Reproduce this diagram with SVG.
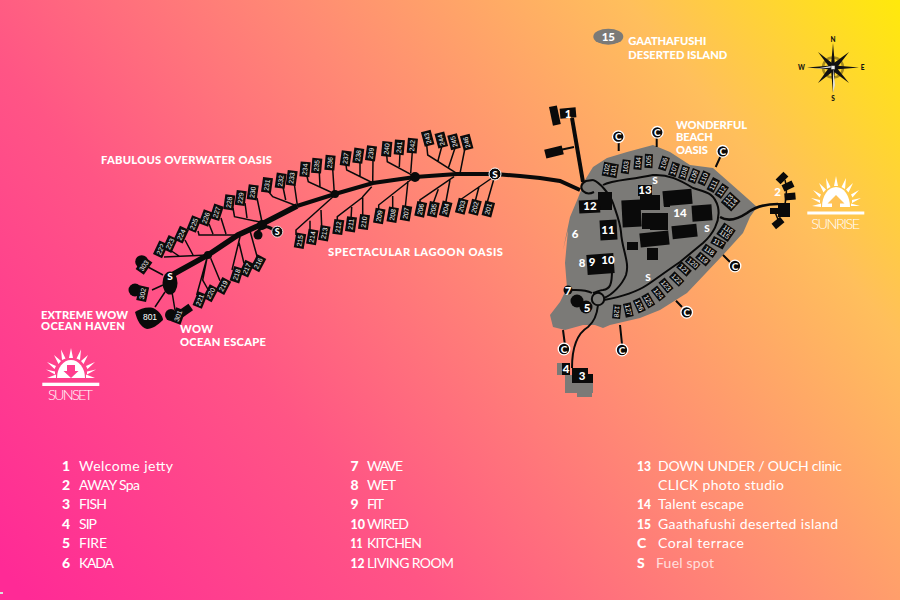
<svg xmlns="http://www.w3.org/2000/svg" width="900" height="600" viewBox="0 0 900 600">
<defs>
<linearGradient id="bg" gradientUnits="userSpaceOnUse" x1="60" y1="640" x2="880" y2="-20">
<stop offset="0" stop-color="#ff2a96"/><stop offset="0.3" stop-color="#ff5585"/><stop offset="0.55" stop-color="#ff8a74"/><stop offset="0.8" stop-color="#ffbf5c"/><stop offset="1" stop-color="#ffe90c"/>
</linearGradient>
</defs>
<style>
text{font-family:"Lato","Liberation Sans",sans-serif;fill:#fff}
.v rect{fill:#0c0c0c}
.v text{font-family:"Liberation Sans",sans-serif;font-size:6.800px;text-anchor:middle;fill:#f2f2f2}
.b{fill:#0a0a0a}
.lk{fill:none;stroke:#0a0a0a;stroke-width:1.500}
.rd{fill:none;stroke:#0a0a0a;stroke-width:2}
.h{font-weight:900;font-size:11.200px}
.m{font-weight:900;font-size:11.500px;text-anchor:middle}
.l{font-size:14px}
.n{font-size:14px;font-weight:900}
.c circle{fill:#0a0a0a;stroke:#fff;stroke-width:1.300}
.c text{font-weight:900;font-size:10px;text-anchor:middle}
</style>
<rect width="900" height="600" fill="url(#bg)"/>
<rect x="0" y="592" width="3" height="2" fill="#ddd"/>

<path id="island" fill="#7b7a77" d="M563 250L570 217L578 198L585 180L593 167L607 158L627 152L653 145L670 152L690 165L713 168L730 183L747 198L757 207L750 217L743 233L723 255L687 293L660 310L640 318L610 325L603 328L595 325L583 325L565 330L553 327L550 315L560 302L567 288L565 263L568 230Z"/>
<path id="grey-3" fill="#7b7a77" d="M557 363H563V375H557ZM565 375H593V393H565ZM577 393H592V397H577Z"/>

<g id="connectors">
<path d="M170 276L208 255L238 235L262 224L297 206" fill="none" stroke="#0a0a0a" stroke-width="5.500"/>
<path d="M297 206L335 194L373 183L415 177L457 174L495 174L520 176L540 178L560 181L580 190" fill="none" stroke="#0a0a0a" stroke-width="4"/>
<circle cx="208" cy="255" r="4" class="b"/><circle cx="262" cy="225" r="5" class="b"/><circle cx="335" cy="194" r="4" class="b"/><circle cx="415" cy="177" r="5" class="b"/>
<path d="M258 238C255 231 262 226 268 227C272 228 274 231 277 232" fill="none" stroke="#0a0a0a" stroke-width="3"/><circle cx="258" cy="235" r="4.500" class="b"/>
<path class="lk" d="M164 257L208 255M170 250L179 256M185 240L193 255M198 231L199 235L238 235M209 224L213 234M221 218L226 234M233 208L234.500 216.700L260 222M245 203L247 218M257 198L262 222M268 191L272.700 196.700L297 206M283 187L285.700 200M294 182L297.300 205M306.700 175L308.300 181.700L335 194M319.300 172L320 186.700M332.700 169L334.300 193M346 165L346.700 170L373 183M360 162L360 176.700M373 160L372.700 183M386.700 155L387.300 161.700L415 176.700M400 153L399.300 167M412.300 152L410.700 173M426.700 145L427.700 155L456.700 173.300M441.700 146.700L437.700 161.700M455 148L448.300 168.300M465 148L460 173.300M495 175L487.300 202M479 186.700L475 202M492 178L460 200M450 180L445.700 203M438.300 189.300L433.300 203M454 176.700L420 200L420 203M408 181L405.300 207M392.700 196L392.700 208M413 178L378.700 205L378.700 209M371.700 186.700L362.700 196.700L362.700 216.700M351.700 207L351 219M363 197L337.300 216.700L337.300 221M321 210L321.700 227M310 220.700L310 231M335 195L296 230L296 235M249.300 228.300L257.300 257.300M239 242.700L244 263.300M240 236.700L232 270M210.700 258.300L220 280.700M207 258L202.700 280L208.300 290M207.300 256.700L196.700 295M148 267L163 275M152 290L163 285M155 307L165 292M172 292L175 310"/>
<path d="M572 118L583 182" fill="none" stroke="#0a0a0a" stroke-width="4"/>
<path class="lk" style="stroke-width:2" d="M560 150L574 147M563 330L564.700 343M620 325L622 344M618.700 142V151M656.700 138V147M720.700 156L715.700 167M723 255L730 262M676 300.700L682 307"/>
<path class="rd" d="M603 185C612 180 630 180 653 175C668 174 680 180 693 188C705 192 714 192 718 207C721 222 712 235 703 243L680 262C665 272 655 280 647 285C635 293 620 297 604 300"/>
<path class="rd" d="M593 180C600 182 610 195 613 203C617 215 620 222 621 232C622 250 630 262 626 275C622 285 612 295 604 298"/>
<path class="rd" d="M592 293C585 289 578 290 570 290M593 293C597 292 600 290 603 290C610 289 612 285 612 270"/>
<path class="rd" d="M598 305C597 315 594 322 588 327C578 333 572 345 572 368"/>
<path d="M720 217C728 222 738 219 747 213C755 207 765 204 778 204" fill="none" stroke="#0a0a0a" stroke-width="2.600"/>
<path class="lk" d="M785 180C788 190 786 198 785 204M775 212L779 222"/>
<path d="M593 180L586 181C581 183 580 188 583 191C586 194 590 194 594 192" fill="#7b7a77" stroke="#0a0a0a" stroke-width="2"/>
<circle cx="598" cy="299" r="6.200" fill="#7b7a77" stroke="#0a0a0a" stroke-width="2"/>
</g>

<g id="villas-lagoon">
<g class="v" id="v201" transform="translate(488.300,209) rotate(-75)"><rect x="-7.500" y="-5" width="15" height="10"/><text y="2.300">201</text></g>
<g class="v" id="v202" transform="translate(475,207.300) rotate(-75)"><rect x="-7.500" y="-5" width="15" height="10"/><text y="2.300">202</text></g>
<g class="v" id="v203" transform="translate(461.700,206.300) rotate(-75)"><rect x="-7.500" y="-5" width="15" height="10"/><text y="2.300">203</text></g>
<g class="v" id="v204" transform="translate(445.700,209) rotate(-75)"><rect x="-7.500" y="-5" width="15" height="10"/><text y="2.300">204</text></g>
<g class="v" id="v205" transform="translate(433.300,209.300) rotate(-78)"><rect x="-7.500" y="-5" width="15" height="10"/><text y="2.300">205</text></g>
<g class="v" id="v206" transform="translate(420.700,209.300) rotate(-78)"><rect x="-7.500" y="-5" width="15" height="10"/><text y="2.300">206</text></g>
<g class="v" id="v207" transform="translate(406,213.300) rotate(-80)"><rect x="-7.500" y="-5" width="15" height="10"/><text y="2.300">207</text></g>
<g class="v" id="v208" transform="translate(392.700,214.700) rotate(-80)"><rect x="-7.500" y="-5" width="15" height="10"/><text y="2.300">208</text></g>
<g class="v" id="v209" transform="translate(379.300,216) rotate(-80)"><rect x="-7.500" y="-5" width="15" height="10"/><text y="2.300">209</text></g>
<g class="v" id="v210" transform="translate(364,222) rotate(-82)"><rect x="-7.500" y="-5" width="15" height="10"/><text y="2.300">210</text></g>
<g class="v" id="v211" transform="translate(351,224.300) rotate(-82)"><rect x="-7.500" y="-5" width="15" height="10"/><text y="2.300">211</text></g>
<g class="v" id="v212" transform="translate(338.300,227) rotate(-82)"><rect x="-7.500" y="-5" width="15" height="10"/><text y="2.300">212</text></g>
<g class="v" id="v213" transform="translate(324.300,233.300) rotate(-80)"><rect x="-7.500" y="-5" width="15" height="10"/><text y="2.300">213</text></g>
<g class="v" id="v214" transform="translate(312.300,237) rotate(-80)"><rect x="-7.500" y="-5" width="15" height="10"/><text y="2.300">214</text></g>
<g class="v" id="v215" transform="translate(300,240.700) rotate(-80)"><rect x="-7.500" y="-5" width="15" height="10"/><text y="2.300">215</text></g>
<g class="v" id="v216" transform="translate(258.300,263.300) rotate(-62)"><rect x="-7.500" y="-5" width="15" height="10"/><text y="2.300">216</text></g>
<g class="v" id="v217" transform="translate(246.700,268.700) rotate(-65)"><rect x="-7.500" y="-5" width="15" height="10"/><text y="2.300">217</text></g>
<g class="v" id="v218" transform="translate(236.700,274.700) rotate(-72)"><rect x="-7.500" y="-5" width="15" height="10"/><text y="2.300">218</text></g>
<g class="v" id="v219" transform="translate(223.300,286) rotate(-62)"><rect x="-7.500" y="-5" width="15" height="10"/><text y="2.300">219</text></g>
<g class="v" id="v220" transform="translate(210.700,293.300) rotate(-62)"><rect x="-7.500" y="-5" width="15" height="10"/><text y="2.300">220</text></g>
<g class="v" id="v221" transform="translate(200,300) rotate(-68)"><rect x="-7.500" y="-5" width="15" height="10"/><text y="2.300">221</text></g>
</g>
<g id="villas-overwater">
<g class="v" id="v222" transform="translate(160.700,249.300) rotate(-65)"><rect x="-7.500" y="-5" width="15" height="10"/><text y="2.300">222</text></g>
<g class="v" id="v223" transform="translate(170,244) rotate(-65)"><rect x="-7.500" y="-5" width="15" height="10"/><text y="2.300">223</text></g>
<g class="v" id="v224" transform="translate(181.300,234.700) rotate(-65)"><rect x="-7.500" y="-5" width="15" height="10"/><text y="2.300">224</text></g>
<g class="v" id="v225" transform="translate(194,224) rotate(-68)"><rect x="-7.500" y="-5" width="15" height="10"/><text y="2.300">225</text></g>
<g class="v" id="v226" transform="translate(206,218) rotate(-70)"><rect x="-7.500" y="-5" width="15" height="10"/><text y="2.300">226</text></g>
<g class="v" id="v227" transform="translate(216.700,212.300) rotate(-72)"><rect x="-7.500" y="-5" width="15" height="10"/><text y="2.300">227</text></g>
<g class="v" id="v228" transform="translate(229.300,202.300) rotate(-82)"><rect x="-7.500" y="-5" width="15" height="10"/><text y="2.300">228</text></g>
<g class="v" id="v229" transform="translate(240.700,198) rotate(-82)"><rect x="-7.500" y="-5" width="15" height="10"/><text y="2.300">229</text></g>
<g class="v" id="v230" transform="translate(252.700,192.300) rotate(-82)"><rect x="-7.500" y="-5" width="15" height="10"/><text y="2.300">230</text></g>
<g class="v" id="v231" transform="translate(267,185) rotate(-82)"><rect x="-7.500" y="-5" width="15" height="10"/><text y="2.300">231</text></g>
<g class="v" id="v232" transform="translate(280.700,180.700) rotate(-82)"><rect x="-7.500" y="-5" width="15" height="10"/><text y="2.300">232</text></g>
<g class="v" id="v233" transform="translate(291.700,178) rotate(-82)"><rect x="-7.500" y="-5" width="15" height="10"/><text y="2.300">233</text></g>
<g class="v" id="v234" transform="translate(305,169.300) rotate(-85)"><rect x="-7.500" y="-5" width="15" height="10"/><text y="2.300">234</text></g>
<g class="v" id="v235" transform="translate(316.700,165.700) rotate(-85)"><rect x="-7.500" y="-5" width="15" height="10"/><text y="2.300">235</text></g>
<g class="v" id="v236" transform="translate(330,162.700) rotate(-85)"><rect x="-7.500" y="-5" width="15" height="10"/><text y="2.300">236</text></g>
<g class="v" id="v237" transform="translate(345.700,158.300) rotate(-82)"><rect x="-7.500" y="-5" width="15" height="10"/><text y="2.300">237</text></g>
<g class="v" id="v238" transform="translate(358.300,155.700) rotate(-82)"><rect x="-7.500" y="-5" width="15" height="10"/><text y="2.300">238</text></g>
<g class="v" id="v239" transform="translate(371,153.300) rotate(-82)"><rect x="-7.500" y="-5" width="15" height="10"/><text y="2.300">239</text></g>
<g class="v" id="v240" transform="translate(386.700,149) rotate(-85)"><rect x="-7.500" y="-5" width="15" height="10"/><text y="2.300">240</text></g>
<g class="v" id="v241" transform="translate(399.300,147.300) rotate(-85)"><rect x="-7.500" y="-5" width="15" height="10"/><text y="2.300">241</text></g>
<g class="v" id="v242" transform="translate(412.300,145.700) rotate(-85)"><rect x="-7.500" y="-5" width="15" height="10"/><text y="2.300">242</text></g>
<g class="v" id="v243" transform="translate(427.700,138.300) rotate(-105)"><rect x="-7.500" y="-5" width="15" height="10"/><text y="2.300">243</text></g>
<g class="v" id="v244" transform="translate(441.300,140) rotate(-105)"><rect x="-7.500" y="-5" width="15" height="10"/><text y="2.300">244</text></g>
<g class="v" id="v245" transform="translate(454,141.700) rotate(-105)"><rect x="-7.500" y="-5" width="15" height="10"/><text y="2.300">245</text></g>
<g class="v" id="v246" transform="translate(466.700,142.300) rotate(-105)"><rect x="-7.500" y="-5" width="15" height="10"/><text y="2.300">246</text></g>
</g>
<g id="villas-haven">
<g id="v303"><circle cx="141.700" cy="261.700" r="6.500" class="b"/><g class="v" transform="translate(144,265.700) rotate(-55)"><rect x="-7.500" y="-5" width="15" height="10"/><text y="2.300">303</text></g></g>
<g id="v302"><circle cx="135" cy="290" r="6.500" class="b"/><g class="v" transform="translate(142.700,293.700) rotate(-78)"><rect x="-7.500" y="-5" width="15" height="10"/><text y="2.300">302</text></g></g>
<g id="v301"><circle cx="171" cy="315" r="6" class="b"/><rect class="b" x="-7" y="-4" width="14" height="8" transform="translate(185,311) rotate(-35)"/><g class="v" transform="translate(178.300,316) rotate(-70)"><rect x="-7.500" y="-5" width="15" height="10"/><text y="2.300">301</text></g></g>
<g id="v801"><path class="b" d="M135 312C141 308 150 306 155 309C160 312 163 317 163 320C158 325 152 329 147 329C141 328 137 320 135 312Z"/><text x="150" y="320" style="font-family:'Liberation Sans',sans-serif;font-size:8.500px;text-anchor:middle">801</text></g>
</g>
<g id="fuel-west">
<ellipse cx="170" cy="283" rx="7.500" ry="11.500" class="b"/>
<text class="m" x="170" y="280" style="font-size:10px">S</text>
</g>
<g id="fuel-hook"><circle cx="277.300" cy="231.700" r="5.500" fill="#0a0a0a" stroke="#fff" stroke-width=".8"/><text x="277.300" y="235" style="font-weight:900;font-size:9px;text-anchor:middle">S</text></g>
<g id="fuel-jetty"><circle cx="495" cy="174" r="6" fill="#0a0a0a" stroke="#fff" stroke-width="1"/><text x="495" y="178" style="font-weight:900;font-size:10px;text-anchor:middle">S</text></g>

<g id="villas-beach">
<g class="v" id="v101" transform="translate(610.300,170) rotate(-80)"><rect x="-7" y="-7.500" width="14" height="15"/><text y="-1.500">102</text><text y="5.500">101</text></g>
<g class="v" id="v103" transform="translate(625.700,166.700) rotate(-82)"><rect x="-7" y="-4" width="14" height="8"/><text y="2.300">103</text></g>
<g class="v" id="v104" transform="translate(638,162.700) rotate(-85)"><rect x="-7" y="-4" width="14" height="8"/><text y="2.300">104</text></g>
<g class="v" id="v105" transform="translate(648.700,161) rotate(-88)"><rect x="-7" y="-4" width="14" height="8"/><text y="2.300">105</text></g>
<g class="v" id="v106" transform="translate(664,163.300) rotate(-72)"><rect x="-7" y="-4" width="14" height="8"/><text y="2.300">106</text></g>
<g class="v" id="v107" transform="translate(674,169.300) rotate(-72)"><rect x="-7" y="-4" width="14" height="8"/><text y="2.300">107</text></g>
<g class="v" id="v108" transform="translate(684,172.700) rotate(-72)"><rect x="-7" y="-4" width="14" height="8"/><text y="2.300">108</text></g>
<g class="v" id="v109" transform="translate(694,176) rotate(-68)"><rect x="-7" y="-4" width="14" height="8"/><text y="2.300">109</text></g>
<g class="v" id="v110" transform="translate(704,178.300) rotate(-65)"><rect x="-7" y="-4" width="14" height="8"/><text y="2.300">110</text></g>
<g class="v" id="v111" transform="translate(713.300,185) rotate(-62)"><rect x="-7" y="-4" width="14" height="8"/><text y="2.300">111</text></g>
<g class="v" id="v112" transform="translate(721.700,191) rotate(-55)"><rect x="-7" y="-4" width="14" height="8"/><text y="2.300">112</text></g>
<g class="v" id="v113" transform="translate(730.700,201.700) rotate(-48)"><rect x="-7" y="-7" width="14" height="14"/><text y="-1.200">113</text><text y="5">114</text></g>
<g class="v" id="v115" transform="translate(726,232.300) rotate(35)"><rect x="-7" y="-7" width="14" height="14"/><text y="-1.200">116</text><text y="5">115</text></g>
<g class="v" id="v117" transform="translate(718.300,242.700) rotate(28)"><rect x="-7" y="-4" width="14" height="8"/><text y="2.300">117</text></g>
<g class="v" id="v118" transform="translate(709.300,250.700) rotate(35)"><rect x="-7" y="-4" width="14" height="8"/><text y="2.300">118</text></g>
<g class="v" id="v119" transform="translate(703,259) rotate(40)"><rect x="-7" y="-4" width="14" height="8"/><text y="2.300">119</text></g>
<g class="v" id="v120" transform="translate(692.700,263) rotate(40)"><rect x="-7" y="-4" width="14" height="8"/><text y="2.300">120</text></g>
<g class="v" id="v121" transform="translate(684,269) rotate(42)"><rect x="-7" y="-4" width="14" height="8"/><text y="2.300">121</text></g>
<g class="v" id="v122" transform="translate(676.700,279) rotate(45)"><rect x="-7" y="-4" width="14" height="8"/><text y="2.300">122</text></g>
<g class="v" id="v123" transform="translate(666,285.500) rotate(50)"><rect x="-7" y="-4" width="14" height="8"/><text y="2.300">123</text></g>
<g class="v" id="v124" transform="translate(658.300,293.500) rotate(52)"><rect x="-7" y="-4" width="14" height="8"/><text y="2.300">124</text></g>
<g class="v" id="v125" transform="translate(648.300,300.500) rotate(60)"><rect x="-7" y="-4" width="14" height="8"/><text y="2.300">125</text></g>
<g class="v" id="v126" transform="translate(639.300,305.500) rotate(65)"><rect x="-7" y="-4" width="14" height="8"/><text y="2.300">126</text></g>
<g class="v" id="v127" transform="translate(628.300,310) rotate(78)"><rect x="-7" y="-4" width="14" height="8"/><text y="2.300">127</text></g>
<g class="v" id="v128" transform="translate(616.700,311.700) rotate(95)"><rect x="-7" y="-4" width="14" height="8"/><text y="2.300">128</text></g>
</g>

<g id="buildings">
<rect class="b" x="598" y="192" width="14" height="18"/>
<rect class="b" x="622" y="200" width="19" height="27" transform="rotate(-3 631 213)"/>
<rect class="b" x="640" y="195" width="20" height="15"/>
<rect class="b" x="664" y="193" width="6" height="14"/>
<rect class="b" x="642" y="213" width="17" height="16"/>
<rect class="b" x="640" y="232" width="29" height="14" transform="rotate(-6 654 239)"/>
<rect class="b" x="627" y="242" width="11" height="8"/>
<rect class="b" x="647" y="248" width="11" height="12"/>
<rect class="b" x="663" y="190" width="29" height="15" transform="rotate(-5 677 197)"/>
<rect class="b" x="692" y="205" width="20" height="16" transform="rotate(-4 702 213)"/>
<rect class="b" x="672" y="225" width="25" height="13" transform="rotate(-6 684 231)"/>
<rect class="b" x="650" y="213" width="18" height="17"/>
</g>
<g id="n1"><rect class="b" x="551" y="106" width="8" height="19" transform="rotate(-12 555 116)"/><rect class="b" x="560" y="108" width="16" height="10" transform="rotate(-5 568 113)"/><text class="m" x="568" y="117.500">1</text></g>
<g id="jetty-end"><rect class="b" x="545" y="147.500" width="18" height="9" transform="rotate(-14 554 152)"/></g>
<g id="n2"><rect class="b" x="778" y="203" width="12" height="14"/><rect class="b" x="770" y="208" width="9" height="6"/><rect class="b" x="776.500" y="174.500" width="11" height="7" transform="rotate(-45 782 178)"/><rect class="b" x="782.500" y="182.500" width="11" height="7" transform="rotate(-25 788 186)"/><rect class="b" x="784.500" y="193" width="11" height="7" transform="rotate(-5 790 196.500)"/><rect class="b" x="772.500" y="219.500" width="11" height="7" transform="rotate(-40 778 223)"/><text class="m" x="777.500" y="195.500">2</text></g>
<g id="n3"><rect class="b" x="572" y="368" width="16" height="15"/><rect class="b" x="584" y="374" width="9" height="9"/><text class="m" x="582" y="380">3</text></g>
<g id="n4"><rect class="b" x="562" y="363" width="8" height="12"/><text class="m" x="566" y="373">4</text></g>
<g id="n5"><circle class="b" cx="577" cy="301" r="6.500"/><circle class="b" cx="586" cy="307" r="6.500"/><text class="m" x="587" y="312">5</text></g>
<g id="n6"><text class="m" x="575" y="238">6</text></g>
<g id="n7"><circle class="b" cx="568" cy="290" r="4.500"/><text class="m" x="568" y="294.500">7</text></g>
<g id="n8"><text class="m" x="582" y="267">8</text></g>
<g id="n9"><rect class="b" x="587" y="254" width="27" height="20" transform="rotate(-4 600 264)"/><text class="m" x="592" y="266">9</text></g>
<g id="n10"><text class="m" x="608" y="263.500">10</text></g>
<g id="n11"><rect class="b" x="600" y="220" width="17" height="20" transform="rotate(-3 608 230)"/><text class="m" x="608" y="234">11</text></g>
<g id="n12"><rect class="b" x="579" y="200" width="21" height="13" transform="rotate(-3 589 206)"/><text class="m" x="590" y="210">12</text></g>
<g id="n13"><rect class="b" x="638" y="185" width="14" height="11"/><text class="m" x="645" y="193.500">13</text></g>
<g id="n14"><text class="m" x="680" y="217">14</text></g>
<g id="fuel-island"><text class="m" x="655" y="184" style="font-size:10px">S</text><text class="m" x="707" y="232" style="font-size:10px">S</text><text class="m" x="648" y="281" style="font-size:10px">S</text></g>
<g id="coral">
<g class="c"><circle cx="564" cy="349" r="5.800"/><text x="564" y="352.500">C</text></g>
<g class="c"><circle cx="622" cy="350" r="5.800"/><text x="622" y="353.500">C</text></g>
<g class="c"><circle cx="618.300" cy="136.700" r="5.800"/><text x="618.300" y="140.200">C</text></g>
<g class="c"><circle cx="657.300" cy="132.300" r="5.800"/><text x="657.300" y="135.800">C</text></g>
<g class="c"><circle cx="722.700" cy="151.300" r="5.800"/><text x="722.700" y="154.800">C</text></g>
<g class="c"><circle cx="735" cy="266" r="5.800"/><text x="735" y="269.500">C</text></g>
<g class="c"><circle cx="686.700" cy="312.300" r="5.800"/><text x="686.700" y="315.800">C</text></g>
</g>

<g id="area-labels">
<text class="h" x="101" y="163.500" textLength="171">FABULOUS OVERWATER OASIS</text>
<text class="h" x="328" y="255.500" textLength="175">SPECTACULAR LAGOON OASIS</text>
<text class="h" x="41" y="318.500" textLength="87">EXTREME WOW</text>
<text class="h" x="41" y="329.500" textLength="84">OCEAN HAVEN</text>
<text class="h" x="180" y="333" textLength="33">WOW</text>
<text class="h" x="180" y="345.500" textLength="86">OCEAN ESCAPE</text>
<text class="h" x="676" y="129" textLength="71">WONDERFUL</text>
<text class="h" x="676" y="141" textLength="37">BEACH</text>
<text class="h" x="676" y="154" textLength="32">OASIS</text>
<text class="h" x="628.300" y="45" textLength="78">GAATHAFUSHI</text>
<text class="h" x="628.300" y="58.500" textLength="99">DESERTED ISLAND</text>
</g>
<g id="n15"><ellipse cx="608.300" cy="36.700" rx="15" ry="8" fill="#7b7a77"/><text class="m" x="608.300" y="41" style="font-size:11.500px">15</text></g>

<g id="compass">
<circle cx="833" cy="67.500" r="10" fill="none" stroke="#a58a1c" stroke-width="2.500"/>
<path fill="#111" d="M818 52L834.500 65L849 83L831.500 70Z"/>
<path fill="#111" d="M849 52L835.500 69.500L818 83L830.500 65.500Z"/>
<path fill="#111" d="M833 43L835 65.500L859 67.500L835 69.500L833 93L831 69.500L807 67.500L831 65.500Z"/>
<path fill="#ddd" d="M833 67.500L814 69L831 66ZM833 93L833 67.500L835 85Z"/>
<rect x="831" y="65.500" width="4" height="4" fill="#eee" stroke="#222" stroke-width=".6"/>
<g style="font-size:6.500px;font-weight:900"><text x="833" y="41.500" style="fill:#111;text-anchor:middle">N</text><text x="833" y="100.500" style="fill:#111;text-anchor:middle">S</text><text x="801.500" y="70" style="fill:#111;text-anchor:middle">W</text><text x="862.500" y="70" style="fill:#111;text-anchor:middle">E</text></g>
</g>

<g id="sunset">
<path fill="#fff" d="M57 378A14 18 0 0 1 85 378Z"/>
<path fill="#ff3e8e" d="M67 365H75V371H78.500L71 378L63.500 371H67Z"/>
<path fill="#fff" d="M71 348L73 358H69ZM61 349.500L65.500 358.500L62 360ZM81 349.500L80 360L76.500 358.500ZM54 355L61 361L58.500 364ZM88 355L83.500 364L81 361ZM47 362L56 366L54.500 369ZM95 362L87.500 369L86 366ZM46 369.500L55 371.500L55 374.500ZM96 369.500L87 374.500L87 371.500ZM47 378L56 374.500L56 378ZM95 378H86L86 374.500Z"/>
<rect x="42.300" y="382.700" width="57" height="3.300" fill="#fff"/>
<text x="70.500" y="400" style="font-size:14.500px;text-anchor:middle;font-weight:300" textLength="45">SUNSET</text>
</g>
<g id="sunrise">
<path fill="#fff" d="M822 207A14 20 0 0 1 850 207Z"/>
<path fill="#ffc255" d="M836 195L844.500 203.500H840V208H832V203.500H827.500Z"/>
<path fill="#fff" d="M836 176L838 186H834ZM826 178L830.500 187L827 189ZM846 178L845 189L841.500 187ZM819 183L826 189.500L823.500 192.500ZM853 183L848.500 192.500L846 189.500ZM813 190L821 194.500L819.500 197.500ZM859 190L852.500 197.500L851 194.500ZM811 198L820 200L820 203ZM861 198L852 203L852 200ZM812 206L821 203.500L821 207ZM860 206H851L851 203.500Z"/>
<rect x="807.300" y="211.500" width="57" height="3" fill="#fff"/>
<text x="835.700" y="229" style="font-size:14.500px;text-anchor:middle;font-weight:300" textLength="49">SUNRISE</text>
</g>

<g id="legend">
<text class="n" x="62" y="470.500">1</text><text class="l" x="79" y="470.500" textLength="94">Welcome jetty</text>
<text class="n" x="62" y="490">2</text><text class="l" x="79" y="490" textLength="61">AWAY Spa</text>
<text class="n" x="62" y="509">3</text><text class="l" x="79" y="509" textLength="28">FISH</text>
<text class="n" x="62" y="528.500">4</text><text class="l" x="79" y="528.500" textLength="18">SIP</text>
<text class="n" x="62" y="548">5</text><text class="l" x="79" y="548" textLength="28">FIRE</text>
<text class="n" x="62" y="567.500">6</text><text class="l" x="79" y="567.500" textLength="35">KADA</text>
<text class="n" x="350.500" y="470.500">7</text><text class="l" x="367" y="470.500" textLength="36">WAVE</text>
<text class="n" x="350.500" y="490">8</text><text class="l" x="367" y="490" textLength="29">WET</text>
<text class="n" x="350.500" y="509">9</text><text class="l" x="367" y="509" textLength="17">FIT</text>
<text class="n" x="350.500" y="528.500" textLength="14.500" lengthAdjust="spacingAndGlyphs">10</text><text class="l" x="367" y="528.500" textLength="42">WIRED</text>
<text class="n" x="350.500" y="548" textLength="12" lengthAdjust="spacingAndGlyphs">11</text><text class="l" x="367" y="548" textLength="55">KITCHEN</text>
<text class="n" x="350.500" y="567.500" textLength="14" lengthAdjust="spacingAndGlyphs">12</text><text class="l" x="367" y="567.500" textLength="87">LIVING ROOM</text>
<text class="n" x="637" y="470.500" textLength="14" lengthAdjust="spacingAndGlyphs">13</text><text class="l" x="658" y="470.500" textLength="184">DOWN UNDER / OUCH clinic</text>
<text class="l" x="658" y="490" textLength="126">CLICK photo studio</text>
<text class="n" x="637" y="509" textLength="14" lengthAdjust="spacingAndGlyphs">14</text><text class="l" x="658" y="509" textLength="86">Talent escape</text>
<text class="n" x="637" y="528.500" textLength="14" lengthAdjust="spacingAndGlyphs">15</text><text class="l" x="658" y="528.500" textLength="180">Gaathafushi deserted island</text>
<text class="n" x="637" y="548">C</text><text class="l" x="658" y="548" textLength="86">Coral terrace</text>
<text class="n" x="637" y="567.500">S</text><text class="l" x="656" y="567.500" opacity=".75" textLength="58">Fuel spot</text>
</g>
</svg>
